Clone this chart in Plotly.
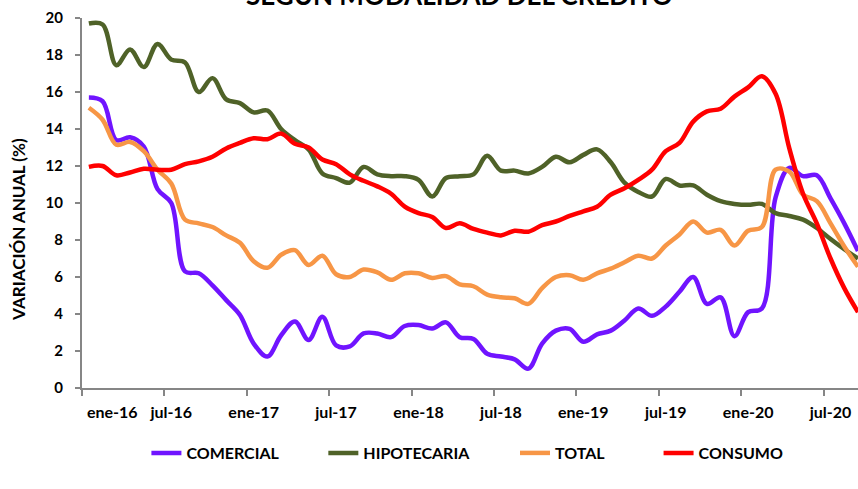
import plotly.graph_objects as go

# Monthly annual growth rates (%) by credit type, ene-16 .. sep-20
month_names = ["ene", "feb", "mar", "abr", "may", "jun",
               "jul", "ago", "sep", "oct", "nov", "dic"]
months = [f"{m}-{y}" for y in ("16", "17", "18", "19", "20") for m in month_names][:57]

comercial = [15.7, 15.5, 13.4, 13.55, 13.05, 10.75, 10.0, 6.3, 6.2, 5.55, 4.75, 3.95,
             2.4, 1.7, 2.85, 3.6, 2.6, 3.85, 2.3, 2.25, 2.95, 2.95, 2.75, 3.35,
             3.4, 3.22, 3.55, 2.75, 2.65, 1.85, 1.7, 1.55, 1.05, 2.4, 3.1, 3.2,
             2.5, 2.9, 3.1, 3.65, 4.3, 3.9, 4.4, 5.2, 6.0, 4.55, 4.9, 2.8,
             4.1, 4.3, 10.3, 11.9, 11.45, 11.5, 10.25, 8.9, 7.4]

hipotecaria = [19.7, 19.65, 17.45, 18.3, 17.35, 18.6, 17.75, 17.6, 16.0, 16.75, 15.6, 15.4,
               14.9, 15.0, 14.0, 13.4, 12.9, 11.6, 11.35, 11.1, 11.95, 11.55, 11.45, 11.45,
               11.25, 10.35, 11.35, 11.45, 11.55, 12.55, 11.75, 11.75, 11.6, 11.95, 12.5, 12.2,
               12.6, 12.9, 12.2, 11.1, 10.6, 10.35, 11.3, 10.95, 10.95, 10.45, 10.1, 9.95,
               9.9, 9.95, 9.45, 9.3, 9.1, 8.65, 8.05, 7.5, 7.0]

total = [15.15, 14.5, 13.15, 13.3, 12.8, 11.8, 11.05, 9.1, 8.9, 8.7, 8.25, 7.85,
         6.85, 6.5, 7.2, 7.45, 6.65, 7.15, 6.15, 6.0, 6.4, 6.25, 5.85, 6.2,
         6.2, 5.95, 6.05, 5.6, 5.5, 5.05, 4.9, 4.85, 4.55, 5.4, 6.0, 6.1,
         5.85, 6.2, 6.45, 6.8, 7.15, 7.0, 7.7, 8.3, 9.0, 8.4, 8.55, 7.7,
         8.5, 8.7, 11.8, 11.7, 10.45, 10.1, 8.9, 7.65, 6.55]

consumo = [11.95, 12.0, 11.5, 11.65, 11.85, 11.8, 11.8, 12.1, 12.25, 12.5, 12.95, 13.25,
           13.5, 13.45, 13.75, 13.2, 13.0, 12.35, 12.1, 11.55, 11.2, 10.9, 10.5, 9.8,
           9.45, 9.25, 8.65, 8.9, 8.6, 8.4, 8.25, 8.5, 8.45, 8.8, 9.0, 9.3,
           9.55, 9.8, 10.45, 10.8, 11.25, 11.8, 12.8, 13.25, 14.4, 14.95, 15.1, 15.75,
           16.25, 16.85, 15.9, 12.95, 10.5, 8.9, 7.0, 5.4, 4.1]

tick_labels = ["ene-16", "jul-16", "ene-17", "jul-17", "ene-18",
               "jul-18", "ene-19", "jul-19", "ene-20", "jul-20"]

FONT = "Lato"
GRAY = "#868686"
x_idx = list(range(len(months)))

series = [
    ("COMERCIAL", comercial, "#7014FF", "legend", 0.083),
    ("HIPOTECARIA", hipotecaria, "#4F6228", "legend2", 0.311),
    ("TOTAL", total, "#F79646", "legend3", 0.558),
    ("CONSUMO", consumo, "#FF0000", "legend4", 0.743),
]

fig = go.Figure()
legends = {}
for name, vals, color, lg, lx in series:
    fig.add_trace(go.Scatter(
        x=x_idx, y=vals, name=name, mode="lines", text=months,
        line=dict(color=color, width=4.5, shape="spline", smoothing=1),
        legend=lg, hovertemplate="%{text}: %{y}<extra>" + name + "</extra>",
    ))
    legends[lg] = dict(
        x=lx, xanchor="left", y=-0.1757, yanchor="middle",
        orientation="h", bgcolor="rgba(0,0,0,0)",
        font=dict(family=FONT, size=16, color="black", weight="bold"),
    )

# label positions: one per semester, the first nudged clear of the y axis
label_pos = [x_idx[months.index(t)] for t in tick_labels]
label_pos[0] += 1.7
# tick marks sit on the boundaries between months
boundary_ticks = [months.index(t) - 0.5 for t in tick_labels]

fig.update_layout(
    width=858, height=489,
    margin=dict(l=82, r=0, t=18, b=101),
    paper_bgcolor="white", plot_bgcolor="white",
    showlegend=True,
    xaxis=dict(
        range=[-0.5, 56], tickmode="array", tickvals=label_pos, ticktext=tick_labels,
        ticks="", showline=True, linecolor=GRAY, linewidth=2,
        showgrid=False, zeroline=False, ticklabelstandoff=9,
        tickfont=dict(family=FONT, size=16, color="black", weight="bold"),
        minor=dict(tickmode="array", tickvals=boundary_ticks, ticks="outside",
                   ticklen=6, tickcolor=GRAY, tickwidth=1.5, showgrid=False),
    ),
    yaxis=dict(
        range=[0, 20], tick0=0, dtick=2, ticks="outside", ticklen=5,
        tickcolor=GRAY, tickwidth=1.5, showline=True, linecolor=GRAY, linewidth=2,
        showgrid=False, zeroline=False, ticklabelstandoff=9,
        tickfont=dict(family=FONT, size=15, color="black", weight="bold"),
    ),
    annotations=[
        dict(text="SEGÚN MODALIDAD DEL CRÉDITO", xref="paper", yref="paper",
             x=0.487, y=1.0135, xanchor="center", yanchor="bottom", showarrow=False,
             font=dict(family=FONT, size=26, color="black", weight="bold")),
        dict(text="VARIACIÓN ANUAL (%)", xref="paper", yref="paper",
             x=-0.0812, y=0.43, xanchor="center", yanchor="middle", textangle=-90,
             showarrow=False,
             font=dict(family=FONT, size=17, color="black", weight="bold")),
    ],
    **legends,
)

fig.write_html("out.html")
